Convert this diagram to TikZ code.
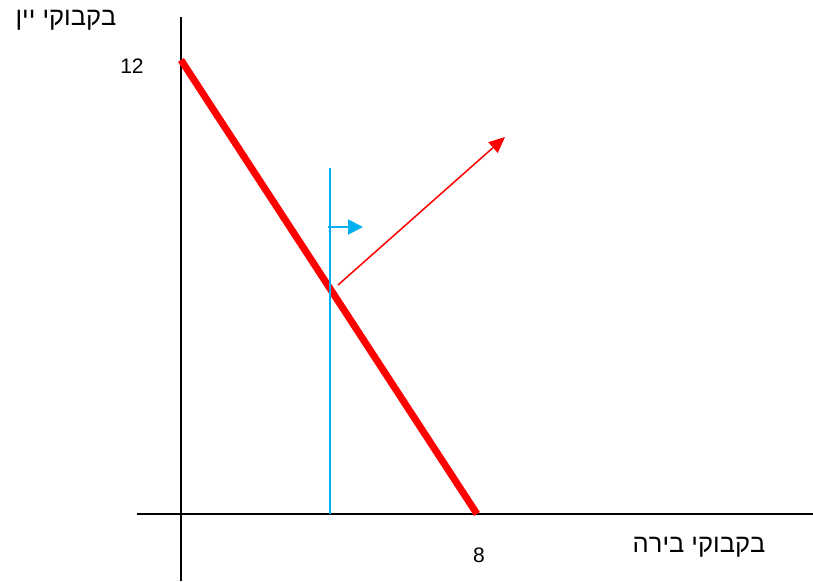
\documentclass[tikz,border=0pt]{standalone}
\usepackage{fontspec}
\setmainfont{Liberation Sans}
\TeXXeTstate=1
\usetikzlibrary{arrows.meta}
\definecolor{skyb}{RGB}{0,176,240}
\tikzset{
  axis/.style={line width=2pt,black},
  lbl/.style={font=\fontsize{21}{24}\selectfont,inner sep=0pt},
  heb/.style={font=\fontsize{25.5}{30}\selectfont,inner sep=0pt},
}
\begin{document}
\begin{tikzpicture}[x=1pt,y=-1pt]
\useasboundingbox (0,0) rectangle (813,581);
% axes
\coordinate (ytop) at (181,17);
\coordinate (ybot) at (181,581);
\coordinate (xl) at (137,514);
\coordinate (xr) at (813,514);
\draw[axis] (ytop) -- (ybot);
\draw[axis] (xl) -- (xr);
% budget line
\coordinate (b1) at (181,60);
\coordinate (b2) at (477,514);
\draw[red,line width=7pt] (b1) -- (b2);
% blue vertical line
\coordinate (v1) at (330,168);
\coordinate (v2) at (330,514);
\draw[skyb,line width=2pt] (v1) -- (v2);
% blue arrow
\coordinate (ba1) at (328,227);
\coordinate (ba2) at (363,227);
\draw[skyb,line width=2pt,-{Triangle[length=15pt,width=15pt]}] (ba1) -- (ba2);
% red arrow
\coordinate (ra1) at (338,285);
\coordinate (ra2) at (505,137);
\draw[red,line width=1.5pt,-{Triangle[length=16pt,width=14pt]}] (ra1) -- (ra2);
% labels
\node[lbl] (n12) at (132,66) {12};
\node[lbl] (n8) at (479,555) {8};
\node[heb] (wine) at (66,20) {\beginR בקבוקי יין\endR};
\node[heb] (beer) at (699,547) {\beginR בקבוקי בירה\endR};
\end{tikzpicture}
\end{document}
